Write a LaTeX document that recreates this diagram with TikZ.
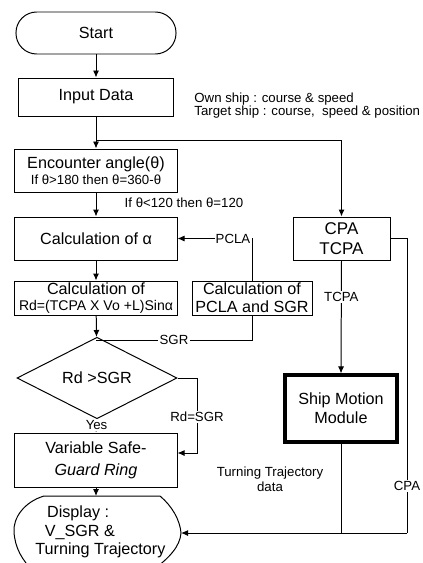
\documentclass[tikz,border=0pt]{standalone}
\usepackage{fontspec}
\setmainfont{Liberation Sans}
\usetikzlibrary{arrows.meta,shapes.geometric}

\begin{document}
\begin{tikzpicture}[x=0.03cm,y=-0.03cm,line width=0.85pt,
    every node/.style={align=center,font=\fontsize{13.8}{16}\selectfont},
    box/.style={draw,rectangle,inner sep=0pt,minimum width=4.86cm},
    lbl/.style={fill=white,inner sep=1pt,font=\fontsize{11.3}{13}\selectfont},
    arr/.style={-{Latex[length=2.1mm,width=1.8mm]}}]
    \useasboundingbox (0,0) rectangle (422,563);
    \clip (0,0) rectangle (422,563);
    % columna izquierda
    \node[box,rounded corners=0.62cm,minimum width=4.8cm,minimum height=1.26cm] (start) at (96,33) {Start};
    \node[box,minimum width=4.62cm,minimum height=1.14cm] (input) at (96,97) {Input Data};
    \node[anchor=west,align=left,font=\fontsize{11.3}{11}\selectfont] (inputinfo) at (190,106)
      {Own ship : course \& speed\\Target ship : course,\ \ speed \& position};
    \node[box,minimum height=1.29cm] (enc) at (96,170.5)
      {Encounter angle(θ)\\[-2pt]{\fontsize{11.3}{12}\selectfont If θ>180 then θ=360-θ}};
    \node[font=\fontsize{11.3}{12}\selectfont] (limit) at (184,203) {If θ<120 then θ=120};
    \node[box,minimum height=1.29cm] (calcA) at (96,238.5) {Calculation of α};
    \node[box,minimum height=1.02cm] (calcRd) at (96,298)
      {Calculation of\\[-2pt]{\fontsize{12}{12}\selectfont Rd=(TCPA X Vo +L)Sinα}};
    \node[box,minimum width=3.6cm,minimum height=1.02cm] (calcP) at (252,298)
      {Calculation of\\[-1pt]PCLA and SGR};
    \node[draw,diamond,inner sep=0pt,minimum width=4.8cm,minimum height=1.56cm] (dia) at (97,378) {Rd >SGR};
    \node[box,minimum height=1.62cm] (vsgr) at (96,460)
      {Variable Safe-\\[3pt]\textit{Guard Ring}};
    % columna derecha
    \node[box,minimum width=2.91cm,minimum height=1.29cm,font=\fontsize{14.5}{17}\selectfont] (cpa) at (341.5,238.5) {CPA\\TCPA};
    \node[box,minimum width=3.36cm,minimum height=2.01cm,line width=2.6pt] (ship) at (341,408.5) {Ship Motion\\Module};
    \node[font=\fontsize{11.3}{13}\selectfont] (ttlbl) at (270,479) {Turning Trajectory\\data};
    % display
    \draw (160,496) -- (44,496) .. controls (24,502) and (13,518) .. (14,532)
      .. controls (15,548) and (22,560) .. (34,572) -- (150,572)
      .. controls (170,558) and (180,546) .. (181,533)
      .. controls (180,520) and (172,506) .. (160,496) -- cycle;
    \node[align=left,anchor=west] (disptxt) at (31,532)
      {\hspace*{10pt}Display :\\\hspace*{8pt}V\_SGR \&\\Turning Trajectory};
    \coordinate (split) at (96,140);
    \coordinate (sgrjoin) at (96,340);
    \coordinate (rdcorner) at (197,453);
    \coordinate (disptop) at (96,496);
    \coordinate (cpacorner) at (407,533);
    \coordinate (disp) at (181,533);
    % conexiones
    \draw[arr] (start) -- (input);
    \draw[arr] (input) -- (enc);
    \draw[arr] (split) -| (cpa.north);
    \draw[arr] (enc) -- (calcA);
    \draw[arr] (calcA) -- (calcRd);
    \draw[arr] (calcRd) -- (dia);
    \draw[arr] (calcP.north) |- node[lbl,anchor=east,pos=0.5]{PCLA} (calcA.east);
    \draw (calcP.south) |- node[lbl,pos=0.75]{SGR} (sgrjoin);
    \draw[arr] (dia.east) -| node[lbl,pos=0.76]{Rd=SGR} (rdcorner) -- (rdcorner -| vsgr.east);
    \draw[arr] (dia.south) -- node[lbl,pos=0.45]{Yes} (vsgr.north);
    \draw[arr] (vsgr.south) -- (disptop);
    \draw[arr] (cpa.south) -- node[lbl,pos=0.32]{TCPA} (ship.north);
    \draw (cpa.east) -| node[lbl,pos=0.92]{CPA} (cpacorner);
    \draw[arr] (cpacorner) -- (disp);
    \draw (ship.south) -- (ship.south |- disp);
\end{tikzpicture}
\end{document}
